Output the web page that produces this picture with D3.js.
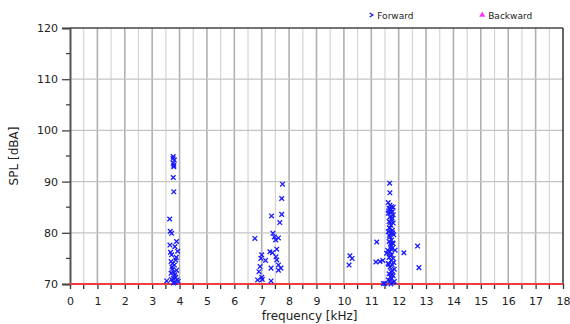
<!DOCTYPE html>
<html>
<head>
<meta charset="utf-8">
<script src="https://cdn.jsdelivr.net/npm/d3@7"></script>
<style>
  body { margin: 0; background: #fff; }
  svg text { font-family: "DejaVu Sans", sans-serif; }
</style>
</head>
<body>
<div id="chart"></div>
<script>
// data: forward measurement points, frequency [kHz] and SPL [dBA]
const forwardFreq = [
  // ~3.8 kHz cluster
  3.77, 3.81, 3.77, 3.79, 3.77, 3.79, 3.64, 3.66, 3.71, 3.89, 3.65, 3.83, 3.93, 3.71, 3.86, 3.69,
  3.81, 3.74, 3.89, 3.69, 3.83, 3.77, 3.91, 3.53, 3.83, 3.95, 3.75, 3.80, 3.72, 3.86, 3.78, 3.70,
  3.88, 3.67, 3.79, 3.76,
  // ~7 kHz cluster
  7.76, 7.73, 7.36, 7.73, 7.66, 6.75, 7.41, 7.46, 7.61, 7.51, 7.30, 7.39, 7.55, 7.00, 6.97, 7.52,
  7.14, 7.55, 6.94, 7.34, 7.61, 7.70, 7.61, 6.90, 7.00, 6.85, 7.34, 7.02,
  // scattered 10-13 kHz
  10.22, 10.30, 10.19, 11.20, 11.17, 11.32, 11.42, 11.44, 12.19, 12.69, 12.74,
  // ~11.7 kHz column
  11.67, 11.68, 11.62, 11.68, 11.74, 11.65, 11.80, 11.72, 11.77, 11.62, 11.80, 11.68, 11.74, 11.65,
  11.80, 11.72, 11.68, 11.77, 11.62, 11.74, 11.82, 11.68, 11.74, 11.65, 11.80, 11.72, 11.77, 11.60,
  11.68, 11.87, 11.56, 11.74, 11.65, 11.80, 11.72, 11.62, 11.77, 11.68, 11.84, 11.72, 11.65, 11.80,
  11.74, 11.68, 11.84, 11.72, 11.50, 11.70, 11.66, 11.78, 11.70, 11.76, 11.62, 11.82, 11.70,
  11.64, 11.76, 11.70, 11.66, 11.78, 11.72, 11.64, 11.76, 11.70, 11.80
];
const forwardSpl = [
  94.9, 94.2, 93.6, 92.9, 90.8, 88.0, 82.7, 80.3, 79.9, 78.3, 77.6, 77.3, 76.4, 75.7, 74.7, 74.4,
  73.7, 72.9, 72.7, 72.1, 71.8, 71.1, 70.8, 70.6, 70.3, 70.5, 74.0, 72.2, 73.3, 71.3, 70.2, 70.9,
  75.2, 76.2, 93.2, 94.5,
  89.5, 86.7, 83.3, 83.6, 82.0, 78.9, 79.9, 79.2, 79.0, 78.6, 76.3, 76.1, 76.8, 75.7, 75.0, 75.3,
  74.6, 74.7, 73.4, 73.1, 73.7, 73.1, 72.7, 72.4, 71.3, 70.8, 70.6, 70.9,
  75.5, 75.0, 73.7, 78.2, 74.3, 74.4, 74.6, 70.1, 76.1, 77.4, 73.2,
  89.7, 87.8, 85.9, 85.4, 85.1, 84.8, 85.0, 84.5, 84.1, 83.8, 83.5, 83.1, 82.6, 82.2,
  81.9, 81.5, 80.9, 80.5, 80.2, 79.9, 79.6, 79.2, 78.6, 78.3, 77.9, 77.4, 77.0, 76.6,
  76.3, 76.6, 76.0, 75.7, 75.2, 75.0, 74.6, 74.0, 73.7, 73.3, 72.9, 72.4, 72.0, 71.6,
  71.1, 70.6, 70.5, 70.0, 70.1, 84.0, 81.0, 78.0, 75.5, 71.8, 70.8, 74.2, 77.8,
  84.3, 82.9, 82.0, 79.5, 80.0, 76.9, 73.8, 72.6, 71.4, 70.3
];
const backwardFreq = [];
const backwardSpl = [];

const xTicks = d3.range(0, 19, 1);
const yTicks = [70, 80, 90, 100, 110, 120];
const legendNames = ["Forward", "Backward"];

const margin = {top: 28, right: 7, bottom: 40, left: 70};
const width = 570 - margin.left - margin.right;
const height = 324 - margin.top - margin.bottom;

const svg = d3.select("#chart").append("svg")
    .attr("width", 570)
    .attr("height", 324)
    .append("g")
    .attr("transform", "translate(" + margin.left + "," + margin.top + ")");

const x = d3.scaleLinear().domain([0, 18]).range([0, width]);
const y = d3.scaleLinear().domain([70, 120]).range([height, 0]);

// grid: half kHz light, whole kHz darker
svg.append("g")
    .selectAll("line")
    .data(d3.range(0.5, 18, 0.5))
    .enter().append("line")
    .attr("x1", d => x(d)).attr("x2", d => x(d))
    .attr("y1", 0).attr("y2", height)
    .attr("stroke", d => Number.isInteger(d) ? "#b0b0b0" : "#d4d4d4")
    .attr("stroke-width", d => Number.isInteger(d) ? 1.6 : 1.2);

svg.append("g")
    .selectAll("line")
    .data(yTicks.slice(1, -1))
    .enter().append("line")
    .attr("x1", 0).attr("x2", width)
    .attr("y1", d => y(d)).attr("y2", d => y(d))
    .attr("stroke", "#c4c4c4")
    .attr("stroke-width", 1.2);

// frame
svg.append("line").attr("x1", 0).attr("x2", width).attr("y1", 0).attr("y2", 0)
    .attr("stroke", "#444").attr("stroke-width", 1.5);
svg.append("line").attr("x1", width).attr("x2", width).attr("y1", 0).attr("y2", height)
    .attr("stroke", "#333").attr("stroke-width", 1.5);

// y axis
const yAxis = svg.append("g")
    .call(d3.axisLeft(y).tickValues(yTicks).tickSize(8).tickPadding(4));
yAxis.select(".domain").attr("stroke", "#555").attr("stroke-width", 2);
yAxis.selectAll(".tick line").attr("stroke", "#444").attr("stroke-width", 1.3);
yAxis.selectAll("text").attr("font-size", "11px").attr("fill", "#222");

svg.append("g")
    .selectAll("line")
    .data([75, 85, 95, 105, 115])
    .enter().append("line")
    .attr("x1", -4).attr("x2", 0)
    .attr("y1", d => y(d)).attr("y2", d => y(d))
    .attr("stroke", "#444").attr("stroke-width", 1.3);

// x axis
const xAxis = svg.append("g")
    .attr("transform", "translate(0," + height + ")")
    .call(d3.axisBottom(x).tickValues(xTicks).tickSize(5).tickPadding(8));
xAxis.select(".domain").remove();
xAxis.selectAll(".tick line").attr("stroke", "#333").attr("stroke-width", 1.3);
xAxis.selectAll("text").attr("font-size", "11px").attr("fill", "#222");

svg.append("g")
    .selectAll("line")
    .data(d3.range(0.5, 18, 1))
    .enter().append("line")
    .attr("x1", d => x(d)).attr("x2", d => x(d))
    .attr("y1", height).attr("y2", height + 5)
    .attr("stroke", "#333").attr("stroke-width", 1.3);

// red line at bottom
svg.append("line")
    .attr("x1", 0).attr("x2", width)
    .attr("y1", y(70)).attr("y2", y(70))
    .attr("stroke", "#f03c3c").attr("stroke-width", 2);

// axis titles
svg.append("text")
    .attr("transform", `translate(${-52}, ${height / 2}) rotate(-90)`)
    .attr("text-anchor", "middle")
    .attr("font-family", "'Liberation Sans', Arial, sans-serif")
    .attr("font-size", "12px")
    .attr("fill", "#222")
    .text("SPL [dBA]");

svg.append("text")
    .attr("x", x(8.75))
    .attr("y", height + 36)
    .attr("text-anchor", "middle")
    .attr("font-family", "'Liberation Sans', Arial, sans-serif")
    .attr("font-size", "12px")
    .attr("fill", "#222")
    .text("frequency [kHz]");

// forward points as small crosses
const forward = forwardFreq.map((f, i) => ({f: f, spl: forwardSpl[i]}));
const s = 2.3;
svg.append("g")
    .selectAll("path")
    .data(forward)
    .enter().append("path")
    .attr("d", d => {
        const cx = x(d.f), cy = y(d.spl);
        return `M${cx - s},${cy - s}L${cx + s},${cy + s}M${cx - s},${cy + s}L${cx + s},${cy - s}`;
    })
    .attr("stroke", "#1a1aff")
    .attr("stroke-width", 1.3)
    .attr("fill", "none");

// backward points (none recorded)
svg.append("g")
    .selectAll("path")
    .data(backwardFreq.map((f, i) => ({f: f, spl: backwardSpl[i]})))
    .enter().append("path")
    .attr("d", d3.symbol().type(d3.symbolTriangle).size(14))
    .attr("transform", d => `translate(${x(d.f)},${y(d.spl)})`)
    .attr("fill", "#ff33ff");

// legend
const legend = svg.append("g").attr("transform", "translate(0," + (-13) + ")");
legend.append("path")
    .attr("d", `M${x(11.0) - 1.5},-2L${x(11.0) + 1.5},0L${x(11.0) - 1.5},2`)
    .attr("stroke", "#1a1aff").attr("stroke-width", 1.4).attr("fill", "none");
legend.append("text")
    .attr("x", x(11.0) + 6).attr("y", 3.5)
    .attr("font-size", "9px").attr("fill", "#222")
    .text(legendNames[0]);
legend.append("path")
    .attr("d", d3.symbol().type(d3.symbolTriangle).size(16))
    .attr("transform", `translate(${x(15.05)},0)`)
    .attr("fill", "#ff33ff");
legend.append("text")
    .attr("x", x(15.05) + 6).attr("y", 3.5)
    .attr("font-size", "9px").attr("fill", "#222")
    .text(legendNames[1]);
</script>
</body>
</html>
